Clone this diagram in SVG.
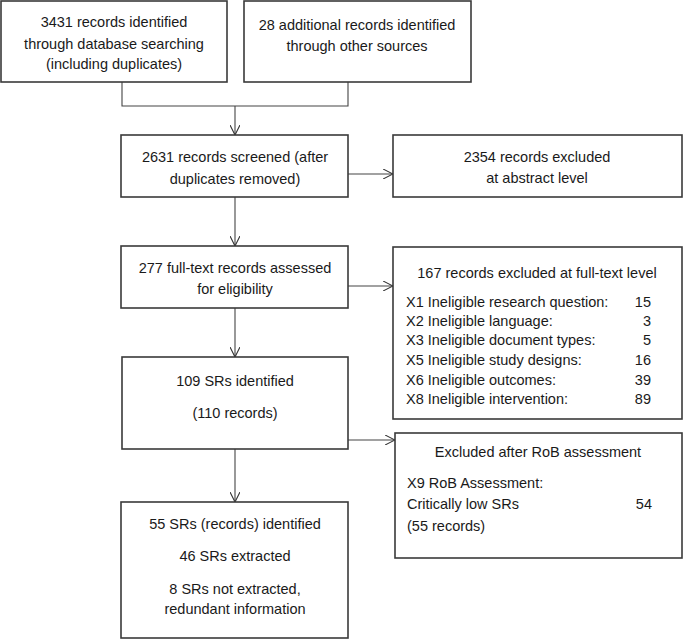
<svg xmlns="http://www.w3.org/2000/svg" width="685" height="639" viewBox="0 0 685 639">
<defs>
<marker id="arr" viewBox="0 0 10 10" refX="10" refY="5" markerWidth="10" markerHeight="10" markerUnits="userSpaceOnUse" orient="auto">
<path d="M0,0 L10,5 L0,10" fill="none" stroke="#333" stroke-width="1.1"/>
</marker>
<style>
.box{fill:#fff;stroke:#3a3a3a;stroke-width:1.6}
.t{font-family:"Liberation Sans",Arial,sans-serif;font-size:14.5px;fill:#1a1a1a}
.c{text-anchor:middle}
.r{text-anchor:end}
.ln{fill:none;stroke:#444;stroke-width:1.1}
</style>
</defs>
<rect width="685" height="639" fill="#fff"/>
<g id="connectors">
<path class="ln" d="M122,82 V106 H348 V82"/>
<path class="ln" d="M235,106 V135" marker-end="url(#arr)"/>
<path class="ln" d="M348,174 H393" marker-end="url(#arr)"/>
<path class="ln" d="M235,197 V246" marker-end="url(#arr)"/>
<path class="ln" d="M348,286 H393" marker-end="url(#arr)"/>
<path class="ln" d="M235,308 V357" marker-end="url(#arr)"/>
<path class="ln" d="M348,440 H395" marker-end="url(#arr)"/>
<path class="ln" d="M235,449 V502" marker-end="url(#arr)"/>
</g>
<g id="n1">
<rect class="box" x="1" y="1" width="226" height="81"/>
<text class="t c" x="114" y="27">3431 records identified</text>
<text class="t c" x="114" y="49">through database searching</text>
<text class="t c" x="114" y="69">(including duplicates)</text>
</g>
<g id="n2">
<rect class="box" x="244" y="1" width="227" height="81"/>
<text class="t c" x="357" y="30">28 additional records identified</text>
<text class="t c" x="357" y="51">through other sources</text>
</g>
<g id="n3">
<rect class="box" x="121" y="135" width="227" height="62"/>
<text class="t c" x="235" y="162">2631 records screened (after</text>
<text class="t c" x="235" y="184">duplicates removed)</text>
</g>
<g id="n4">
<rect class="box" x="393" y="135" width="289" height="62"/>
<text class="t c" x="537" y="162">2354 records excluded</text>
<text class="t c" x="537" y="183">at abstract level</text>
</g>
<g id="n5">
<rect class="box" x="121" y="246" width="227" height="62"/>
<text class="t c" x="235" y="273">277 full-text records assessed</text>
<text class="t c" x="235" y="294">for eligibility</text>
</g>
<g id="n6">
<rect class="box" x="393" y="247" width="289" height="172"/>
<text class="t c" x="537" y="278">167 records excluded at full-text level</text>
<text class="t" x="406" y="307">X1 Ineligible research question:</text>
<text class="t r" x="651" y="307">15</text>
<text class="t" x="406" y="326">X2 Ineligible language:</text>
<text class="t r" x="651" y="326">3</text>
<text class="t" x="406" y="345">X3 Ineligible document types:</text>
<text class="t r" x="651" y="345">5</text>
<text class="t" x="406" y="365">X5 Ineligible study designs:</text>
<text class="t r" x="651" y="365">16</text>
<text class="t" x="406" y="385">X6 Ineligible outcomes:</text>
<text class="t r" x="651" y="385">39</text>
<text class="t" x="406" y="404">X8 Ineligible intervention:</text>
<text class="t r" x="651" y="404">89</text>
</g>
<g id="n7">
<rect class="box" x="122" y="357" width="226" height="92"/>
<text class="t c" x="235" y="386">109 SRs identified</text>
<text class="t c" x="235" y="418">(110 records)</text>
</g>
<g id="n8">
<rect class="box" x="395" y="433" width="287" height="125"/>
<text class="t c" x="538" y="457">Excluded after RoB assessment</text>
<text class="t" x="407" y="488">X9 RoB Assessment:</text>
<text class="t" x="407" y="509">Critically low SRs</text>
<text class="t r" x="652" y="509">54</text>
<text class="t" x="407" y="531">(55 records)</text>
</g>
<g id="n9">
<rect class="box" x="121" y="502" width="227" height="136"/>
<text class="t c" x="235" y="529">55 SRs (records) identified</text>
<text class="t c" x="235" y="561">46 SRs extracted</text>
<text class="t c" x="235" y="594">8 SRs not extracted,</text>
<text class="t c" x="235" y="614">redundant information</text>
</g>
</svg>
